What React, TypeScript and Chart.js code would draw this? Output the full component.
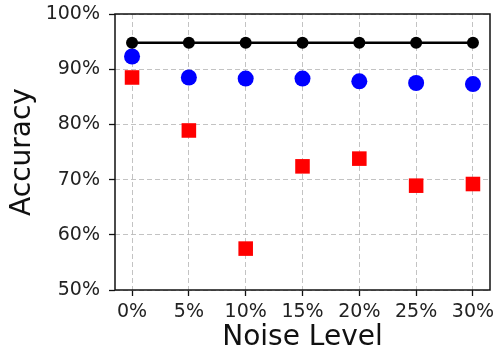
import { useEffect, useRef } from "react";
import { Chart, registerables } from "chart.js";

Chart.register(...registerables);

const noiseLevels = [0, 5, 10, 15, 20, 25, 30];
const blackAcc = [94.8, 94.8, 94.8, 94.8, 94.8, 94.8, 94.8];
const blueAcc = [92.3, 88.5, 88.3, 88.3, 87.8, 87.5, 87.3];
const redAcc = [88.5, 78.9, 57.5, 72.4, 73.8, 68.9, 69.2];
const xTickValues = [0, 5, 10, 15, 20, 25, 30];
const yTickValues = [50, 60, 70, 80, 90, 100];

const FONT = "'DejaVu Sans', sans-serif";

const framePlugin = {
  id: "frame",
  afterDraw(chart: any) {
    const { ctx, chartArea: a } = chart;
    ctx.save();
    ctx.strokeStyle = "#111";
    ctx.lineWidth = 1.5;
    ctx.setLineDash([]);
    ctx.strokeRect(a.left, a.top, a.right - a.left, a.bottom - a.top);
    ctx.restore();
  },
};

function toPoints(vals: number[]) {
  return noiseLevels.map((x, i) => ({ x, y: vals[i] }));
}

export default function App() {
  const ref = useRef<HTMLCanvasElement | null>(null);

  useEffect(() => {
    document.body.style.margin = "0";
    const canvas = ref.current;
    if (!canvas) return;
    const gridCommon = {
      color: "rgba(185,185,185,0.85)",
      lineWidth: 1,
      drawTicks: true,
      tickLength: 6,
      tickColor: "#111",
      tickWidth: 1.3,
      tickBorderDash: [],
    };
    const chart = new Chart(canvas, {
      type: "scatter",
      data: {
        datasets: [
          {
            type: "line",
            data: toPoints(blackAcc),
            borderColor: "#000",
            backgroundColor: "#000",
            borderWidth: 2.5,
            pointRadius: 6,
            pointBorderWidth: 0,
            pointStyle: "circle",
            showLine: true,
            order: 0,
          } as any,
          {
            data: toPoints(blueAcc),
            backgroundColor: "#0000ff",
            borderColor: "#0000ff",
            pointRadius: 8,
            pointBorderWidth: 0,
            pointStyle: "circle",
            order: 1,
          },
          {
            data: toPoints(redAcc),
            backgroundColor: "#ff0000",
            borderColor: "#ff0000",
            pointRadius: 10.3,
            pointBorderWidth: 0,
            pointStyle: "rect",
            order: 2,
          },
        ],
      },
      options: {
        animation: false,
        responsive: false,
        devicePixelRatio: 1,
        layout: { autoPadding: false, padding: { top: 14, right: 5, left: 0, bottom: 0 } },
        plugins: {
          legend: { display: false },
          tooltip: { enabled: false },
        },
        scales: {
          x: {
            type: "linear",
            min: -1.5,
            max: 31.5,
            afterBuildTicks: (scale: any) => {
              scale.ticks = xTickValues.map((v) => ({ value: v }));
            },
            afterFit: (scale: any) => {
              scale.height = 62;
              scale.paddingLeft = 0;
              scale.paddingRight = 0;
            },
            grid: gridCommon,
            border: { display: false, dash: [5, 3] },
            ticks: {
              autoSkip: false,
              maxRotation: 0,
              padding: 7,
              color: "#222",
              font: { family: FONT, size: 19, lineHeight: 1 },
              callback: (v: any) => v + "%",
            },
            title: {
              display: true,
              text: "Noise Level",
              color: "#111",
              font: { family: FONT, size: 28, lineHeight: 1 },
              padding: { top: 0, bottom: 0 },
            },
          },
          y: {
            type: "linear",
            min: 50,
            max: 100,
            afterBuildTicks: (scale: any) => {
              scale.ticks = yTickValues.map((v) => ({ value: v }));
            },
            afterFit: (scale: any) => {
              scale.width = 115;
              scale.paddingTop = 0;
              scale.paddingBottom = 0;
            },
            grid: gridCommon,
            border: { display: false, dash: [5, 3] },
            ticks: {
              padding: 9,
              color: "#222",
              font: { family: FONT, size: 19, lineHeight: 1 },
              callback: (v: any) => v + "%",
            },
            title: {
              display: true,
              text: "Accuracy",
              color: "#111",
              font: { family: FONT, size: 28, lineHeight: 1 },
              padding: { top: 9, bottom: 0 },
            },
          },
        },
      },
      plugins: [framePlugin],
    });
    return () => chart.destroy();
  }, []);

  return (
    <div style={{ width: 495, height: 352 }}>
      <canvas ref={ref} width={495} height={352} style={{ display: "block", width: 495, height: 352 }} />
    </div>
  );
}
